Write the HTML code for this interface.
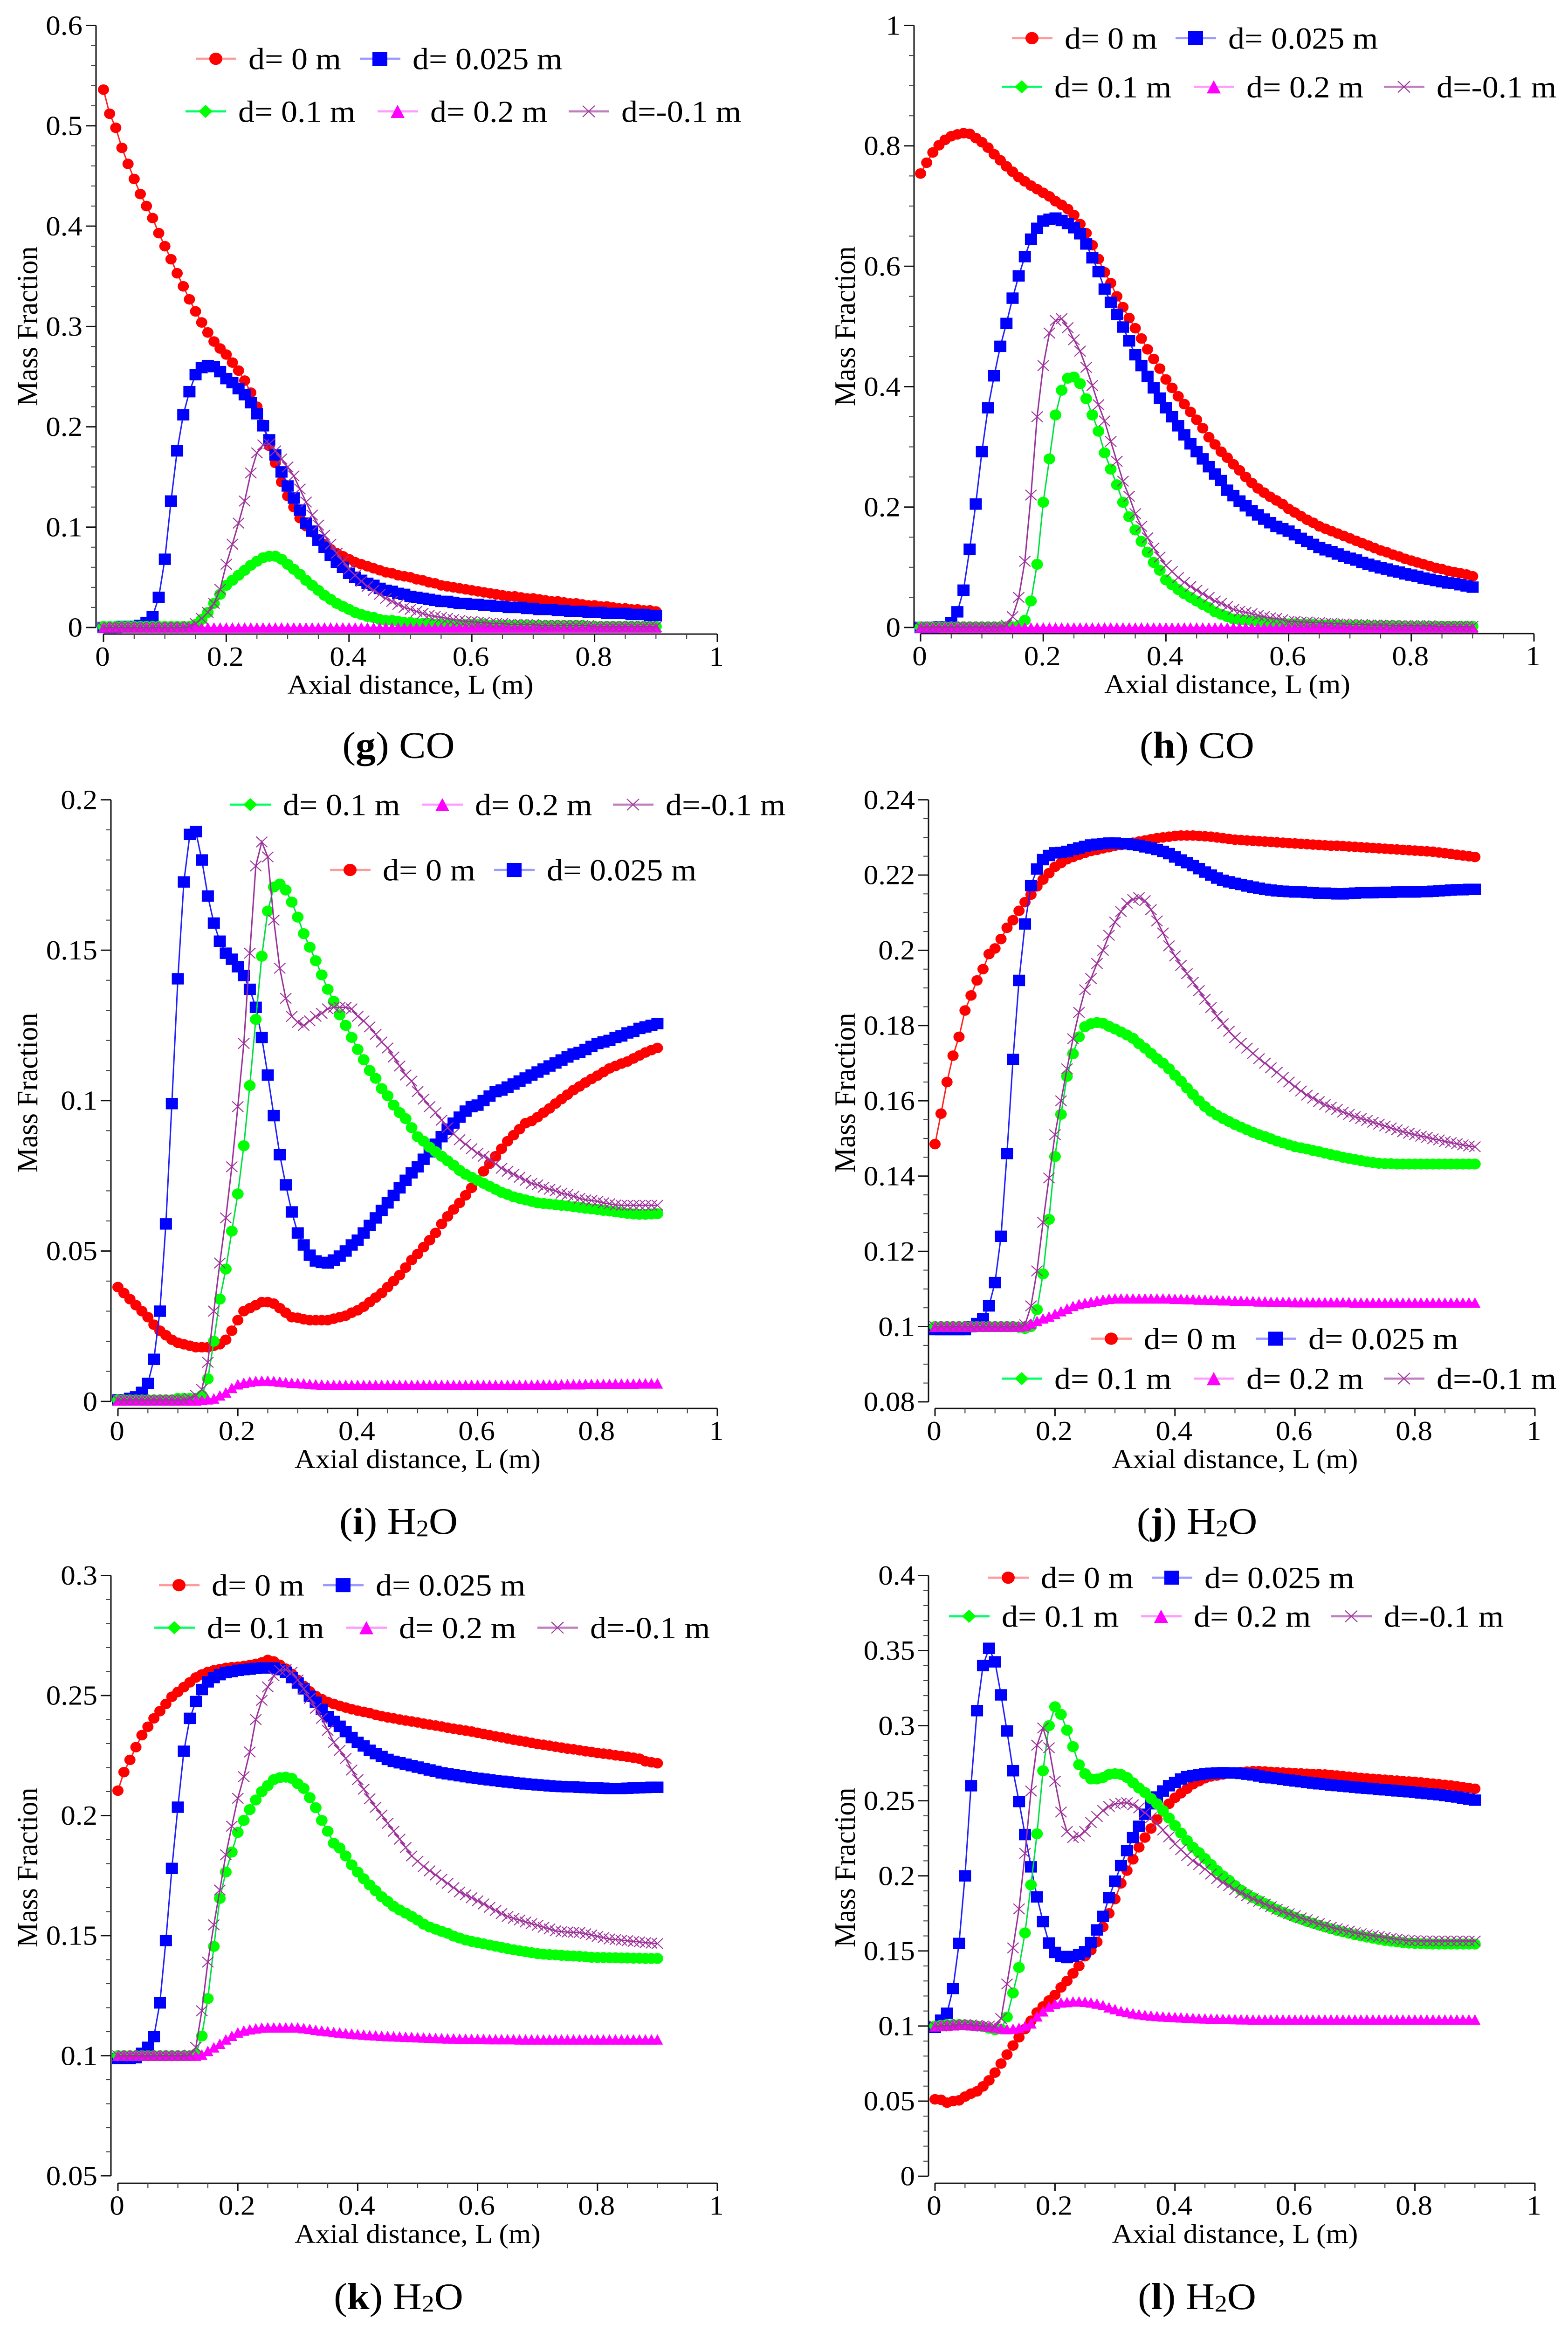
<!DOCTYPE html>
<html lang="en">
<head>
<meta charset="utf-8">
<title>Mass fraction profiles along axial distance</title>
<style>
html,body{margin:0;padding:0;background:#fff;width:100%;height:100%;overflow:hidden;}
#figure{display:block;width:100vw;height:100vh;background:#fff;}
text{font-family:"Liberation Serif","Times New Roman",serif;fill:#000;}
</style>
</head>
<body>
<svg id="figure" xmlns="http://www.w3.org/2000/svg" viewBox="0 0 3364 5316" preserveAspectRatio="none"></svg>
<script>
const xValues = [0,.01,.02,.03,.04,.05,.06,.07,.08,.09,
.1,.11,.12,.13,.14,.15,.16,.17,.18,.19,
.2,.21,.22,.23,.24,.25,.26,.27,.28,.29,
.3,.31,.32,.33,.34,.35,.36,.37,.38,.39,
.4,.41,.42,.43,.44,.45,.46,.47,.48,.49,
.5,.51,.52,.53,.54,.55,.56,.57,.58,.59,
.6,.61,.62,.63,.64,.65,.66,.67,.68,.69,
.7,.71,.72,.73,.74,.75,.76,.77,.78,.79,
.8,.81,.82,.83,.84,.85,.86,.87,.88,.89,.9];
const xTickLabels = [0,0.2,0.4,0.6,0.8,1];
const seriesNames = ["d= 0 m","d= 0.025 m","d= 0.1 m","d= 0.2 m","d=-0.1 m"];

/* panel g: CO */
const gYTicks = [0,0.1,0.2,0.3,0.4,0.5,0.6];
const gRed = [.536,.512,.498,.478,.462,.447,.432,.420,.408,.393,
.380,.367,.353,.340,.327,.315,.304,.294,.285,.278,
.272,.264,.256,.246,.234,.220,.202,.181,.164,.145,
.131,.120,.109,.101,.095,.088,.083,.078,.074,.071,
.068,.065,.063,.061,.059,.057,.055,.054,.052,.051,
.050,.048,.047,.045,.044,.042,.041,.040,.039,.038,
.037,.036,.035,.034,.033,.032,.031,.031,.030,.029,
.029,.028,.027,.026,.026,.025,.024,.024,.023,.022,
.022,.021,.021,.020,.019,.019,.018,.018,.017,.017,.016];
const gBlue = [0,0,0,.001,.001,.001,.002,.005,.011,.030,
.068,.126,.176,.212,.235,.252,.259,.261,.260,.255,
.248,.244,.238,.232,.224,.213,.201,.187,.172,.155,
.141,.129,.117,.104,.096,.087,.080,.072,.065,.060,
.054,.050,.047,.044,.042,.039,.037,.036,.034,.033,
.031,.030,.029,.028,.027,.026,.026,.025,.024,.024,
.023,.023,.022,.022,.021,.021,.020,.020,.020,.019,
.019,.018,.018,.018,.017,.017,.016,.016,.016,.015,
.015,.015,.014,.014,.014,.014,.013,.013,.013,.012,.012];
const gGreen = [.001,.001,.001,.001,.001,.001,.001,.001,.001,.001,
.001,.001,.001,.001,.001,.003,.008,.015,.024,.033,
.042,.047,.052,.057,.062,.066,.0695,.071,.071,.068,
.063,.058,.053,.047,.042,.037,.032,.028,.024,.021,
.018,.015,.013,.011,.010,.008,.007,.007,.006,.005,
.005,.004,.004,.004,.003,.003,.003,.003,.003,.003,
.003,.003,.003,.002,.002,.002,.002,.002,.002,.002,
.002,.002,.002,.002,.002,.002,.002,.002,.002,.001,
.001,.001,.001,.001,.001,.001,.001,.001,.001,.001,.001];
const gMagenta = [0,0,0,0,0,0,0,0,0,0,
0,0,0,0,0,0,0,0,0,0,
0,0,0,0,0,0,0,0,0,0,
0,0,0,0,0,0,0,0,0,0,
0,0,0,0,0,0,0,0,0,0,
0,0,0,0,0,0,0,0,0,0,
0,0,0,0,0,0,0,0,0,0,
0,0,0,0,0,0,0,0,0,0,
0,0,0,0,0,0,0,0,0,0,0];
const gPurple = [0,0,0,0,0,0,0,0,0,0,
0,0,0,0,.001,.004,.009,.015,.024,.038,
.063,.083,.104,.126,.154,.174,.182,.183,.176,.168,
.160,.151,.138,.125,.112,.102,.092,.083,.074,.066,
.058,.052,.046,.041,.037,.033,.029,.026,.023,.020,
.018,.016,.014,.012,.011,.010,.009,.008,.007,.006,
.006,.005,.005,.004,.004,.004,.003,.003,.003,.003,
.003,.002,.002,.002,.002,.002,.002,.002,.002,.002,
.001,.001,.001,.001,.001,.001,.001,.001,.001,.001,.001];

/* panel h: CO */
const hYTicks = [0,0.2,0.4,0.6,0.8,1];
const hRed = [.754,.772,.789,.801,.810,.816,.819,.821,.820,.813,
.806,.797,.786,.776,.766,.757,.748,.741,.734,.728,
.722,.716,.708,.702,.695,.685,.670,.655,.635,.612,
.590,.572,.550,.532,.514,.497,.480,.462,.446,.430,
.412,.398,.384,.371,.358,.345,.331,.316,.304,.292,
.282,.271,.261,.250,.240,.231,.224,.217,.211,.205,
.197,.191,.185,.179,.174,.168,.164,.160,.156,.152,
.148,.144,.140,.136,.132,.128,.125,.121,.118,.114,
.111,.108,.105,.102,.099,.097,.094,.092,.090,.088,.085];
const hBlue = [0,0,0,.001,.001,.008,.026,.062,.130,.205,
.292,.365,.418,.467,.505,.547,.584,.616,.645,.663,
.675,.678,.680,.676,.671,.664,.654,.637,.614,.591,
.562,.540,.520,.499,.476,.453,.435,.417,.398,.381,
.365,.350,.335,.320,.305,.292,.280,.267,.255,.244,
.228,.219,.210,.202,.194,.187,.180,.174,.168,.164,
.160,.154,.148,.143,.138,.133,.129,.126,.122,.118,
.115,.112,.108,.105,.102,.099,.097,.094,.092,.089,
.087,.085,.082,.080,.078,.076,.074,.073,.071,.069,.067];
const hGreen = [.001,.001,.001,.001,.001,.001,.001,.001,.001,.001,
.001,.001,.001,.001,.001,.001,.003,.012,.044,.105,
.208,.280,.353,.394,.414,.416,.405,.380,.353,.326,
.290,.263,.237,.208,.184,.162,.143,.125,.108,.095,
.079,.071,.063,.056,.050,.044,.038,.033,.026,.022,
.018,.014,.013,.012,.011,.010,.009,.008,.007,.007,
.006,.006,.005,.005,.005,.004,.004,.004,.004,.003,
.003,.003,.003,.003,.003,.003,.003,.003,.003,.002,
.002,.002,.002,.002,.002,.002,.002,.002,.002,.002,.002];
const hMagenta = [0,0,0,0,0,0,0,0,0,0,
0,0,0,0,0,0,0,0,0,0,
0,0,0,0,0,0,0,0,0,0,
0,0,0,0,0,0,0,0,0,0,
0,0,0,0,0,0,0,0,0,0,
0,0,0,0,0,0,0,0,0,0,
0,0,0,0,0,0,0,0,0,0,
0,0,0,0,0,0,0,0,0,0,
0,0,0,0,0,0,0,0,0,0,0];
const hPurple = [.001,.001,.001,.001,.001,.001,.001,.001,.001,.001,
.001,.001,.001,.001,.004,.018,.050,.110,.220,.350,
.435,.489,.510,.513,.498,.478,.459,.432,.402,.370,
.343,.309,.276,.243,.218,.189,.168,.149,.132,.117,
.103,.093,.083,.075,.068,.062,.056,.050,.044,.040,
.035,.030,.027,.025,.023,.020,.018,.016,.015,.013,
.010,.010,.009,.009,.008,.008,.007,.007,.006,.006,
.005,.005,.005,.004,.004,.004,.004,.003,.003,.003,
.003,.003,.003,.003,.002,.002,.002,.002,.002,.002,.002];

/* panel i: H2O */
const iYTicks = [0,0.05,0.1,0.15,0.2];
const iRed = [.038,.036,.034,.032,.030,.028,.0255,.0235,.022,.0205,
.0195,.019,.0185,.018,.018,.018,.0185,.019,.0205,.0235,
.027,.030,.031,.032,.033,.033,.0325,.031,.0295,.028,
.0278,.0273,.027,.027,.027,.027,.0275,.028,.0285,.0295,
.0303,.0315,.033,.0345,.036,.038,.040,.042,.0445,.047,
.049,.0513,.0536,.056,.059,.0615,.0638,.066,.0685,.071,
.0735,.0765,.079,.0815,.084,.0865,.0885,.0905,.0925,.0932,
.0945,.096,.0974,.099,.1005,.102,.1035,.1047,.106,.1072,
.1083,.1095,.1107,.1115,.1123,.113,.114,.115,.116,.1168,.1175];
const iBlue = [.0005,.0005,.001,.0015,.003,.006,.014,.030,.059,.099,
.1405,.1727,.1885,.1894,.180,.168,.159,.153,.149,.147,
.1445,.1416,.137,.131,.121,.1085,.095,.082,.072,.063,
.056,.052,.0486,.0467,.0462,.046,.047,.0483,.050,.052,
.0536,.056,.0585,.061,.0635,.066,.0685,.071,.0735,.076,
.078,.0805,.083,.0855,.088,.0905,.0925,.0945,.0965,.098,
.0985,.100,.1015,.103,.1035,.1045,.1055,.1065,.1075,.1085,
.1095,.1105,.1115,.1125,.1135,.1145,.1155,.116,.117,.118,
.119,.1195,.120,.121,.1215,.1225,.123,.124,.1245,.125,.1256];
const iGreen = [.0005,.0005,.0005,.0005,.0005,.0005,.0005,.0005,.0005,.0005,
.001,.001,.001,.001,.002,.0075,.020,.034,.044,.0566,
.069,.085,.105,.127,.148,.163,.171,.172,.170,.166,
.161,.1555,.151,.1465,.1418,.137,.133,.1285,.125,.121,
.117,.1136,.110,.1074,.104,.1016,.0985,.096,.094,.091,
.088,.0865,.0845,.083,.0815,.080,.0785,.0768,.0755,.0745,
.0735,.0725,.0715,.0705,.0695,.0688,.068,.0675,.067,.0665,
.066,.0658,.0656,.0654,.0652,.065,.0647,.0645,.0642,.064,
.0638,.0635,.0633,.063,.0628,.0625,.0623,.0622,.0622,.0623,.0624];
const iMagenta = [.0003,.0003,.0003,.0003,.0003,.0003,.0003,.0003,.0003,.0003,
.0003,.0003,.0003,.0003,.0005,.0007,.001,.002,.003,.0045,
.0057,.0062,.0066,.0068,.0069,.0069,.0068,.0066,.0064,.0062,
.0061,.006,.0058,.0057,.0056,.0055,.0055,.0055,.0055,.0055,
.0055,.0055,.0055,.0055,.0055,.0055,.0055,.0055,.0055,.0055,
.0055,.0055,.0055,.0055,.0055,.0055,.0055,.0055,.0055,.0055,
.0055,.0055,.0055,.0055,.0055,.0055,.0055,.0055,.0055,.0055,
.0056,.0056,.0056,.0056,.0057,.0057,.0057,.0057,.0058,.0058,
.0058,.0058,.0058,.0059,.0059,.0059,.0059,.006,.006,.006,.006];
const iPurple = [.0005,.0005,.0005,.0005,.0005,.0005,.0005,.0005,.0005,.0005,
.0005,.0005,.001,.002,.004,.013,.030,.046,.061,.078,
.098,.119,.149,.178,.186,.181,.160,.144,.134,.128,
.126,.125,.1265,.128,.129,.1305,.131,.131,.131,.1305,
.128,.1265,.1245,.122,.1195,.1175,.1145,.1115,.1085,.1065,
.103,.1005,.098,.096,.0935,.091,.089,.087,.0855,.084,
.0825,.0815,.0805,.079,.0775,.0765,.0755,.0745,.0735,.0725,
.072,.0712,.0705,.07,.0692,.0688,.0682,.0675,.067,.0668,
.0665,.066,.0657,.0653,.0652,.0652,.0652,.0652,.0652,.0652,.0652];

/* panel j: H2O */
const jYTicks = [0.08,0.1,0.12,0.14,0.16,0.18,0.2,0.22,0.24];
const jRed = [.1485,.1566,.165,.172,.177,.184,.188,.192,.195,.199,
.2005,.203,.206,.208,.2105,.2128,.2148,.217,.2188,.2205,
.2222,.2232,.2242,.2248,.2254,.2259,.2264,.2267,.2271,.2274,
.2278,.228,.2283,.2286,.2289,.2292,.2295,.2298,.23,.2302,
.2304,.2305,.2305,.2305,.2304,.2303,.2302,.23,.2298,.2296,
.2294,.2293,.2292,.2291,.229,.2289,.2288,.2287,.2286,.2285,
.2284,.2283,.2282,.2281,.228,.2279,.2278,.2278,.2277,.2276,
.2275,.2274,.2273,.2272,.2271,.227,.2269,.2268,.2267,.2266,
.2265,.2264,.2263,.2262,.226,.2258,.2256,.2254,.2252,.225,.2248];
const jBlue = [.0992,.0992,.0992,.0992,.0992,.0992,.1,.1008,.1021,.1055,
.1117,.124,.146,.171,.192,.207,.2172,.2216,.2241,.2252,
.2259,.226,.2263,.2268,.2272,.2276,.228,.2282,.2284,.2285,
.2285,.2284,.2283,.2281,.2279,.2275,.2272,.2268,.2263,.2257,
.2248,.224,.2233,.2225,.2217,.2208,.22,.2192,.2186,.2182,
.2178,.2175,.2171,.2168,.2165,.2162,.216,.2158,.2157,.2156,
.2155,.2155,.2154,.2153,.2152,.2152,.2151,.215,.215,.2151,
.2152,.2153,.2153,.2153,.2154,.2154,.2154,.2155,.2155,.2155,
.2155,.2156,.2156,.2157,.2158,.2159,.216,.2161,.2161,.2162,.2162];
const jGreen = [.1,.1,.1,.1,.1,.1,.1,.1,.1,.1,
.1,.1,.1,.1,.0998,.0995,.1,.1045,.114,.1285,
.1452,.1564,.1665,.1725,.177,.1797,.1805,.1808,.1806,.1798,
.1791,.1783,.1775,.1766,.1752,.174,.1726,.1712,.17,.1685,
.1668,.1652,.1634,.1617,.16,.1585,.1572,.1562,.1553,.1545,
.1537,.153,.1523,.1516,.151,.1505,.1499,.1493,.1488,.1483,
.1478,.1475,.1472,.1468,.1465,.1461,.1457,.1454,.145,.1447,
.1444,.1441,.1438,.1436,.1434,.1433,.1433,.1432,.1432,.1432,
.1432,.1432,.1432,.1432,.1432,.1432,.1432,.1432,.1432,.1432,.1432];
const jMagenta = [.1,.1,.1,.1,.1,.1,.1,.1,.1,.1,
.1,.1,.1,.1,.1,.1002,.1008,.1015,.1022,.1027,
.1034,.1041,.1048,.1055,.106,.1063,.1066,.1069,.1072,.1074,
.1075,.1075,.1075,.1075,.1075,.1075,.1075,.1075,.1075,.1075,
.1074,.1074,.1073,.1073,.1072,.1072,.1071,.1071,.107,.107,
.1069,.1069,.1068,.1068,.1067,.1067,.1066,.1066,.1066,.1066,
.1065,.1065,.1065,.1065,.1065,.1065,.1065,.1065,.1065,.1065,
.1064,.1064,.1064,.1064,.1064,.1064,.1064,.1064,.1064,.1064,
.1064,.1064,.1064,.1064,.1064,.1064,.1064,.1064,.1064,.1064,.1064];
const jPurple = [.1,.1,.1,.1,.1,.1,.1,.1,.1,.1,
.1,.1,.1,.1,.1,.1005,.1055,.1148,.1277,.1395,
.151,.16,.1685,.1765,.1835,.1895,.1925,.1965,.2,.204,
.2075,.2103,.2125,.2135,.214,.2132,.2108,.2078,.2046,.2012,
.1985,.196,.1938,.1915,.1893,.187,.1848,.1825,.1805,.1785,
.1768,.1753,.174,.1726,.1712,.17,.1688,.1676,.1662,.165,
.1638,.1626,.1615,.1607,.1598,.159,.1583,.1577,.157,.1564,
.1558,.1553,.1548,.1543,.1538,.1533,.1528,.1523,.1518,.1514,
.151,.1506,.1503,.1499,.1496,.1492,.1489,.1486,.1483,.148,.1478];

/* panel k: H2O */
const kYTicks = [0.05,0.1,0.15,0.2,0.25,0.3];
const kRed = [.2104,.2181,.2232,.2285,.2335,.237,.2405,.2435,.2465,.2495,
.2515,.2535,.2555,.2575,.2588,.2598,.2605,.261,.2615,.2618,
.262,.2623,.2627,.2632,.2638,.2648,.2642,.2628,.2612,.259,
.2565,.254,.2517,.2498,.2485,.2473,.2465,.2457,.245,.2443,
.2437,.2432,.2427,.242,.2414,.2409,.2405,.24,.2396,.2392,
.2388,.2383,.2379,.2375,.2371,.2366,.2362,.2358,.2354,.235,
.2345,.234,.2335,.233,.2326,.2321,.2316,.2312,.2308,.2303,
.2298,.2295,.2291,.2287,.2283,.2279,.2276,.2272,.2268,.2265,
.2261,.2258,.2255,.2251,.2248,.2245,.2241,.2237,.2226,.2222,.2218];
const kBlue = [.0989,.0989,.0989,.0992,.101,.1035,.108,.122,.148,.178,
.2035,.2268,.2405,.2475,.2525,.2557,.2575,.2587,.2596,.26,
.2605,.2608,.261,.2613,.2615,.2615,.2615,.2608,.2597,.2575,
.2552,.2528,.2497,.2472,.2442,.2412,.2392,.2372,.235,.2325,
.2305,.229,.2272,.2258,.2246,.2234,.2226,.222,.2214,.2208,
.2202,.2196,.219,.2184,.2178,.2174,.217,.2166,.2162,.2158,
.2155,.2152,.2149,.2146,.2143,.214,.2137,.2135,.2132,.213,
.2128,.2126,.2124,.2122,.2121,.212,.212,.2118,.2117,.2116,
.2115,.2114,.2113,.2113,.2113,.2114,.2115,.2116,.2117,.2118,.2118];
const kGreen = [.1,.1,.1,.1,.1,.1,.1,.1,.1,.1,
.1,.1,.1,.1008,.1082,.1238,.1455,.1655,.1765,.1848,
.193,.198,.2025,.2065,.21,.2125,.215,.2158,.216,.2155,
.2133,.2113,.2075,.2033,.198,.1935,.1885,.1865,.1832,.1795,
.1765,.1737,.1711,.1687,.1662,.1643,.1622,.1607,.1594,.158,
.1565,.1548,.1536,.1527,.1518,.151,.1498,.149,.1482,.1476,
.1471,.1466,.1461,.1456,.1451,.1446,.1441,.1437,.1433,.1429,
.1425,.1423,.1421,.142,.1418,.1416,.1415,.1414,.1412,.141,
.1409,.1409,.1408,.1408,.1407,.1407,.1406,.1406,.1405,.1405,.1405];
const kMagenta = [.1,.1,.1,.1,.1,.1,.1,.1,.1,.1,
.1,.1,.1,.1,.1005,.102,.1035,.105,.1068,.1083,
.1097,.1105,.111,.1114,.1117,.1118,.1118,.1118,.1118,.1118,
.1118,.1115,.1112,.1108,.1105,.1102,.1099,.1097,.1094,.1092,
.109,.1088,.1086,.1085,.1083,.1082,.1081,.108,.1079,.1078,
.1077,.1076,.1075,.1074,.1073,.1072,.1072,.1071,.1071,.107,
.107,.107,.1069,.1069,.1069,.1069,.1069,.1068,.1068,.1068,
.1068,.1068,.1068,.1068,.1068,.1068,.1068,.1068,.1068,.1068,
.1068,.1068,.1068,.1068,.1068,.1068,.1068,.1068,.1068,.1068,.1068];
const kPurple = [.1,.1,.1,.1,.1,.1,.1,.1,.1,.1,
.1,.1,.1003,.1035,.1187,.139,.1545,.169,.1837,.1956,
.2072,.2162,.2265,.24,.248,.2536,.2582,.2605,.2608,.2597,
.2565,.2528,.2488,.2447,.2405,.2355,.2305,.2272,.2238,.219,
.215,.211,.207,.2035,.2002,.1968,.1935,.1902,.1867,.1832,
.181,.1788,.177,.1753,.1735,.1718,.17,.1682,.167,.1658,
.1645,.1632,.1618,.1605,.1592,.158,.1572,.1565,.1557,.155,
.1543,.1535,.1528,.152,.1517,.1515,.1514,.1513,.1508,.1503,
.1497,.1492,.1486,.1484,.1481,.1479,.1476,.1474,.1471,.1469,.1467];

/* panel l: H2O */
const lYTicks = [0,0.05,0.1,0.15,0.2,0.25,0.3,0.35,0.4];
const lRed = [.0512,.0509,.049,.05,.0505,.053,.055,.0565,.0598,.0638,
.069,.075,.081,.087,.0925,.098,.1035,.109,.113,.117,
.1207,.1257,.130,.135,.14,.1465,.1505,.156,.166,.175,
.1845,.195,.2035,.211,.219,.2255,.2315,.2375,.243,.248,
.252,.255,.258,.261,.263,.265,.2662,.2668,.2675,.2682,
.2688,.2691,.2694,.2697,.2697,.2695,.2692,.269,.2688,.2686,
.2684,.2682,.268,.2678,.2677,.2675,.2672,.2668,.2664,.266,
.2656,.2652,.2649,.2646,.2643,.264,.2637,.2634,.2631,.2628,
.2626,.2622,.2618,.2614,.261,.2606,.2602,.2596,.259,.2585,.258];
const lBlue = [.0991,.1039,.1085,.125,.155,.2,.26,.31,.34,.3515,
.3425,.3205,.2965,.27,.2495,.2275,.206,.186,.1695,.1553,
.149,.1463,.1456,.1463,.1475,.1495,.1555,.164,.173,.1855,
.1965,.2068,.2168,.2255,.233,.241,.248,.2525,.2565,.26,
.2622,.2645,.266,.2668,.2675,.268,.2683,.2685,.2687,.2685,
.2685,.2682,.2677,.2672,.2665,.2658,.2653,.2648,.2642,.2637,
.2632,.2627,.2623,.2618,.2613,.2609,.2605,.2601,.2597,.2594,
.259,.2586,.2583,.258,.2576,.2573,.257,.2566,.2563,.256,
.2556,.2552,.2548,.2544,.254,.2535,.253,.2525,.2518,.2511,.2504];
const lGreen = [.1,.1005,.101,.101,.101,.1008,.1005,.1,.0995,.0985,
.0975,.098,.106,.122,.139,.162,.194,.228,.27,.30,
.3126,.3075,.297,.286,.274,.268,.2645,.2645,.2655,.2675,
.268,.2675,.2655,.262,.2585,.2555,.2515,.248,.2435,.2385,
.2335,.2285,.2235,.219,.2155,.2115,.2075,.2035,.2,.197,
.1935,.1905,.1878,.1855,.1835,.1815,.1795,.1775,.1758,.1742,
.1725,.1712,.1697,.1685,.1672,.166,.1648,.1637,.1627,.1618,
.1608,.16,.1592,.1585,.1577,.157,.1565,.156,.1556,.1552,
.155,.1548,.1547,.1546,.1546,.1546,.1546,.1546,.1546,.1546,.1546];
const lMagenta = [.0998,.1,.1003,.1005,.1007,.1007,.1005,.1002,.1,.0995,
.099,.0985,.098,.0982,.0988,.1,.1018,.1065,.1098,.113,
.1148,.1157,.116,.1164,.1164,.1162,.1157,.115,.114,.1125,
.1113,.11,.1093,.1085,.1079,.1074,.107,.1067,.1064,.1062,
.106,.1058,.1056,.1054,.1052,.1051,.105,.1049,.1048,.1047,
.1046,.1045,.1045,.1044,.1044,.1044,.1044,.1044,.1044,.1044,
.1044,.1044,.1044,.1044,.1044,.1044,.1044,.1044,.1044,.1044,
.1044,.1044,.1044,.1044,.1044,.1044,.1044,.1044,.1044,.1044,
.1044,.1044,.1044,.1044,.1044,.1044,.1044,.1044,.1044,.1044,.1044];
const lPurple = [.1,.1,.1005,.1005,.101,.101,.1008,.1005,.1,.1,
.0995,.105,.128,.152,.178,.215,.2565,.287,.2985,.2853,
.263,.2425,.2295,.2255,.2265,.2295,.2355,.2395,.2435,.2462,
.2478,.2484,.2487,.2473,.2452,.242,.2387,.2347,.2305,.226,
.2212,.2175,.2135,.21,.2075,.2045,.2012,.1982,.1955,.1935,
.1908,.1888,.1868,.1848,.183,.1812,.1795,.1778,.1762,.1748,
.1735,.172,.1708,.1695,.1682,.167,.1658,.1648,.164,.1632,
.1622,.1615,.1608,.1602,.1596,.159,.1584,.1578,.1574,.157,
.1568,.1567,.1567,.1566,.1566,.1566,.1566,.1566,.1566,.1566,.1566];

const SVG_NS = "http://www.w3.org/2000/svg";
const root = document.getElementById("figure");

function make(tag, parent, attrs) {
  const el = document.createElementNS(SVG_NS, tag);
  for (const k in attrs) el.setAttribute(k, attrs[k]);
  parent.appendChild(el);
  return el;
}

function drawMarker(parent, kind, cx, cy, s, color) {
  let el;
  if (kind === "circle") {
    el = make("circle", parent, {cx: cx, cy: cy, r: s / 2, fill: color});
  } else if (kind === "square") {
    el = make("rect", parent, {x: cx - s / 2, y: cy - s / 2, width: s, height: s, fill: color});
  } else if (kind === "diamond") {
    el = make("polygon", parent, {points: cx + "," + (cy - s / 2) + " " + (cx + s / 2) + "," + cy + " " + cx + "," + (cy + s / 2) + " " + (cx - s / 2) + "," + cy, fill: color});
  } else if (kind === "triangle") {
    el = make("polygon", parent, {points: cx + "," + (cy - s / 2) + " " + (cx + s / 2) + "," + (cy + s / 2) + " " + (cx - s / 2) + "," + (cy + s / 2), fill: color});
  } else {
    const h = s / 2;
    el = make("path", parent, {d: "M" + (cx - h) + " " + (cy - h) + "L" + (cx + h) + " " + (cy + h) + "M" + (cx - h) + " " + (cy + h) + "L" + (cx + h) + " " + (cy - h), stroke: color, "stroke-width": 2.2, fill: "none"});
  }
  
  
  return el;
}

const seriesStyles = [
  {key: "red",     color: "#ff0000", line: "#ff2020", plot: "circle",   plotSize: 24, legend: "circle",   legendSize: 28, legendLine: "#ff9a9a"},
  {key: "blue",    color: "#0000ff", line: "#2020ff", plot: "square",   plotSize: 26, legend: "square",   legendSize: 32, legendLine: "#9a9aff"},
  {key: "green",   color: "#00ff00", line: "#00e040", plot: "circle",   plotSize: 25, legend: "diamond",  legendSize: 30, legendLine: "#00ff66"},
  {key: "magenta", color: "#ff00ff", line: "#ff00ff", plot: "triangle", plotSize: 24, legend: "triangle", legendSize: 30, legendLine: "#ff9aff"},
  {key: "purple",  color: "#a0329c", line: "#993399", plot: "cross",    plotSize: 24, legend: "cross",    legendSize: 26, legendLine: "#c080c0"}
];

function drawPanel(cfg) {
  const panel = make("g", root, {});
  
  

  const yMin = cfg.yTicks[0];
  const yMax = cfg.yTicks[cfg.yTicks.length - 1];
  const xScale = function (v) { return cfg.x0 + v * (cfg.x1 - cfg.x0); };
  const yScale = function (v) { return cfg.yBottom - (v - yMin) / (yMax - yMin) * (cfg.yBottom - cfg.yTop); };

  /* y axis */
  const yAxis = make("g", panel, {stroke: "#111", "stroke-width": 3});
  
  
  make("line", yAxis, {x1: cfg.yAxisX, x2: cfg.yAxisX, y1: cfg.yTop, y2: cfg.yBottom});
  for (let i = 0; i < cfg.yTicks.length; i++) {
    const py = yScale(cfg.yTicks[i]);
    const tick = make("line", yAxis, {x1: cfg.yAxisX - 22, x2: cfg.yAxisX, y1: py, y2: py});
    
    
    const label = make("text", panel, {x: cfg.yAxisX - 29, y: py + 21, "font-size": 63, "text-anchor": "end"});
    label.textContent = String(cfg.yTicks[i]);
    
    
    if (i < cfg.yTicks.length - 1) {
      const next = yScale(cfg.yTicks[i + 1]);
      for (let m = 1; m < cfg.yMinor; m++) {
        const my = py + (next - py) * m / cfg.yMinor;
        const minor = make("line", yAxis, {x1: cfg.yAxisX - 11, x2: cfg.yAxisX, y1: my, y2: my, "stroke-width": 2.2, stroke: "#444"});
        
        
      }
    }
  }

  /* x axis */
  const xAxis = make("g", panel, {stroke: "#111", "stroke-width": 3});
  
  
  make("line", xAxis, {x1: cfg.x0, x2: cfg.x1, y1: cfg.xAxisY, y2: cfg.xAxisY});
  for (let i = 0; i < xTickLabels.length; i++) {
    const px = xScale(xTickLabels[i]);
    const tick = make("line", xAxis, {x1: px, x2: px, y1: cfg.xAxisY, y2: cfg.xAxisY + 18});
    
    
    const label = make("text", panel, {x: px - 2, y: cfg.xAxisY + 72, "font-size": 63, "text-anchor": "middle"});
    label.textContent = String(xTickLabels[i]);
    
    
    if (i < xTickLabels.length - 1) {
      const next = xScale(xTickLabels[i + 1]);
      for (let m = 1; m < 4; m++) {
        const mx = px + (next - px) * m / 4;
        const minor = make("line", xAxis, {x1: mx, x2: mx, y1: cfg.xAxisY, y2: cfg.xAxisY + 11, "stroke-width": 2.2, stroke: "#444"});
        
        
      }
    }
  }

  const xTitle = make("text", panel, {x: (cfg.x0 + cfg.x1) / 2, y: cfg.xAxisY + 136, "font-size": 62, "text-anchor": "middle"});
  xTitle.textContent = "Axial distance, L (m)";
  
  

  const yTitle = make("text", panel, {transform: "translate(" + cfg.yTitleX + " " + cfg.yTitleY + ") rotate(-90)", "font-size": 64, "text-anchor": "middle"});
  yTitle.textContent = "Mass Fraction";
  
  

  /* series */
  for (let s = 0; s < seriesStyles.length; s++) {
    const st = seriesStyles[s];
    const values = cfg.series[s];
    const group = make("g", panel, {});
    
    
    const pts = [];
    for (let i = 0; i < values.length; i++) {
      pts.push(xScale(xValues[i]).toFixed(1) + "," + yScale(values[i]).toFixed(1));
    }
    const line = make("polyline", group, {points: pts.join(" "), fill: "none", stroke: st.line, "stroke-width": 3});
    
    
    for (let i = 0; i < values.length; i++) {
      drawMarker(group, st.plot, xScale(xValues[i]), yScale(values[i]), st.plotSize, st.color);
    }
  }

  /* legend */
  const legend = make("g", panel, {});
  
  
  for (let s = 0; s < seriesStyles.length; s++) {
    const st = seriesStyles[s];
    const lx = cfg.legendX[s];
    const ly = cfg.legendY[s];
    const entry = make("g", legend, {});
    
    
    make("line", entry, {x1: lx, x2: lx + 87, y1: ly, y2: ly, stroke: st.legendLine, "stroke-width": 5});
    drawMarker(entry, st.legend, lx + 43, ly, st.legendSize, st.color);
    const t = make("text", entry, {x: lx + 113, y: ly + 24, "font-size": 70});
    t.textContent = seriesNames[s];
    
    
  }

  /* caption */
  const cap = make("text", panel, {x: cfg.captionX, y: cfg.captionY, "font-size": 86, "text-anchor": "middle"});
  
  
  make("tspan", cap, {}).textContent = "(";
  make("tspan", cap, {"font-weight": "bold"}).textContent = cfg.id;
  make("tspan", cap, {}).textContent = ") ";
  if (cfg.species === "H2O") {
    make("tspan", cap, {}).textContent = "H";
    make("tspan", cap, {"font-size": 54, dy: 6}).textContent = "2";
    make("tspan", cap, {dy: -6}).textContent = "O";
  } else {
    make("tspan", cap, {}).textContent = cfg.species;
  }
}

drawPanel({id: "g", species: "CO", yTicks: gYTicks, yMinor: 5, series: [gRed, gBlue, gGreen, gMagenta, gPurple],
  yAxisX: 206, x0: 222, x1: 1539, yTop: 58, yBottom: 1431, xAxisY: 1446, yTitleX: 80, yTitleY: 744,
  legendX: [420, 772, 398, 810, 1220], legendY: [134, 134, 254, 254, 254], captionX: 855, captionY: 1728});
drawPanel({id: "h", species: "CO", yTicks: hYTicks, yMinor: 4, series: [hRed, hBlue, hGreen, hMagenta, hPurple],
  yAxisX: 1961, x0: 1975, x1: 3291, yTop: 58, yBottom: 1431, xAxisY: 1445, yTitleX: 1834, yTitleY: 744,
  legendX: [2171, 2522, 2149, 2561, 2969], legendY: [87, 87, 198, 198, 198], captionX: 2568, captionY: 1728});
drawPanel({id: "i", species: "H2O", yTicks: iYTicks, yMinor: 5, series: [iRed, iBlue, iGreen, iMagenta, iPurple],
  yAxisX: 238, x0: 253, x1: 1539, yTop: 1824, yBottom: 3196, xAxisY: 3212, yTitleX: 80, yTitleY: 2492,
  legendX: [708, 1060, 494, 906, 1315], legendY: [1984, 1984, 1835, 1835, 1835], captionX: 855, captionY: 3498});
drawPanel({id: "j", species: "H2O", yTicks: jYTicks, yMinor: 4, series: [jRed, jBlue, jGreen, jMagenta, jPurple],
  yAxisX: 1992, x0: 2006, x1: 3293, yTop: 1824, yBottom: 3197, xAxisY: 3212, yTitleX: 1834, yTitleY: 2492,
  legendX: [2341, 2694, 2149, 2561, 2969], legendY: [3053, 3053, 3144, 3144, 3144], captionX: 2568, captionY: 3498});
drawPanel({id: "k", species: "H2O", yTicks: kYTicks, yMinor: 5, series: [kRed, kBlue, kGreen, kMagenta, kPurple],
  yAxisX: 238, x0: 253, x1: 1539, yTop: 3593, yBottom: 4962, xAxisY: 4979, yTitleX: 80, yTitleY: 4259,
  legendX: [341, 693, 331, 743, 1153], legendY: [3615, 3615, 3712, 3712, 3712], captionX: 855, captionY: 5266});
drawPanel({id: "l", species: "H2O", yTicks: lYTicks, yMinor: 5, series: [lRed, lBlue, lGreen, lMagenta, lPurple],
  yAxisX: 1992, x0: 2006, x1: 3293, yTop: 3593, yBottom: 4963, xAxisY: 4979, yTitleX: 1834, yTitleY: 4259,
  legendX: [2120, 2471, 2036, 2448, 2856], legendY: [3598, 3598, 3686, 3686, 3686], captionX: 2568, captionY: 5266});
</script>
</body>
</html>
